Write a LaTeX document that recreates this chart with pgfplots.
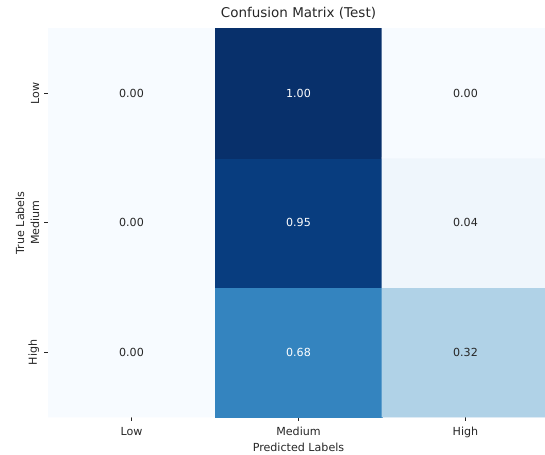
\documentclass[border=0pt]{standalone}
\usepackage{pgfplots}
\pgfplotsset{compat=1.18}
\usepackage{pgfplotstable}
\usepackage{fontspec}
\setmainfont{DejaVu Sans}
\definecolor{txt}{HTML}{262626}
\pgfplotsset{
  colormap={Blues}{HTML(0)=(F7FBFF) HTML(1)=(DEEBF7) HTML(2)=(C6DBEF) HTML(3)=(9ECAE1) HTML(4)=(6BAED6) HTML(5)=(4292C6) HTML(6)=(2171B5) HTML(7)=(08519C) HTML(8)=(08306B)}
}
% x = predicted (0 Low,1 Medium,2 High); y = true (2 Low,1 Medium,0 High)
\pgfplotstableread{
x y v
0 0 0.00
1 0 0.68
2 0 0.32
0 1 0.00
1 1 0.95
2 1 0.04
0 2 0.00
1 2 1.00
2 2 0.00
}\cm
\pgfplotstableread{
x y t
0 0 0.00
2 0 0.32
0 1 0.00
2 1 0.04
0 2 0.00
2 2 0.00
}\darklabels
\pgfplotstableread{
x y t
1 0 0.68
1 1 0.95
1 2 1.00
}\lightlabels
\begin{document}
\begin{tikzpicture}
\path[use as bounding box] (0,0) rectangle (392.4pt,326.88pt);
\begin{axis}[
  at={(34.56pt,26.64pt)}, anchor=south west,
  scale only axis, width=360.72pt, height=279.72pt,
  xmin=-0.5, xmax=2.5, ymin=-0.5, ymax=2.5,
  enlargelimits=false,
  colormap name=Blues, point meta min=0, point meta max=1,
  axis line style={draw=none},
  xtick={0,1,2}, xticklabels={Low,Medium,High},
  ytick={0,1,2}, yticklabels={High,Medium,Low},
  xtick pos=lower, ytick pos=left,
  tick align=outside, major tick length=2.8pt,
  tick style={draw=txt, line width=0.5pt},
  ticklabel style={font=\fontsize{8}{10}\selectfont, text=txt},
  xticklabel style={yshift=-1pt},
  yticklabel style={rotate=90, anchor=south, xshift=0pt},
  title={Confusion Matrix (Test)},
  title style={font=\fontsize{9.7}{12}\selectfont, text=txt, at={([yshift=4.8pt]axis description cs:0.5,1)}, anchor=center},
  xlabel={Predicted Labels}, ylabel={True Labels},
  label style={font=\fontsize{8}{10}\selectfont, text=txt},
  xlabel style={at={([yshift=-21.6pt]axis description cs:0.5,0)}, anchor=center},
  ylabel style={at={([xshift=-20.2pt]axis description cs:0,0.5)}, anchor=center},
]
\addplot[matrix plot*, mesh/cols=3, mesh/rows=3, point meta=explicit] table[x=x, y=y, meta=v] {\cm};
\addplot[only marks, mark=none, point meta=explicit symbolic,
  nodes near coords, nodes near coords align=center,
  every node near coord/.style={font=\fontsize{8}{10}\selectfont, text=txt, anchor=center}]
  table[x=x, y=y, meta=t] {\darklabels};
\addplot[only marks, mark=none, point meta=explicit symbolic,
  nodes near coords, nodes near coords align=center,
  every node near coord/.style={font=\fontsize{8}{10}\selectfont, text=white, anchor=center}]
  table[x=x, y=y, meta=t] {\lightlabels};
\end{axis}
\end{tikzpicture}
\end{document}
